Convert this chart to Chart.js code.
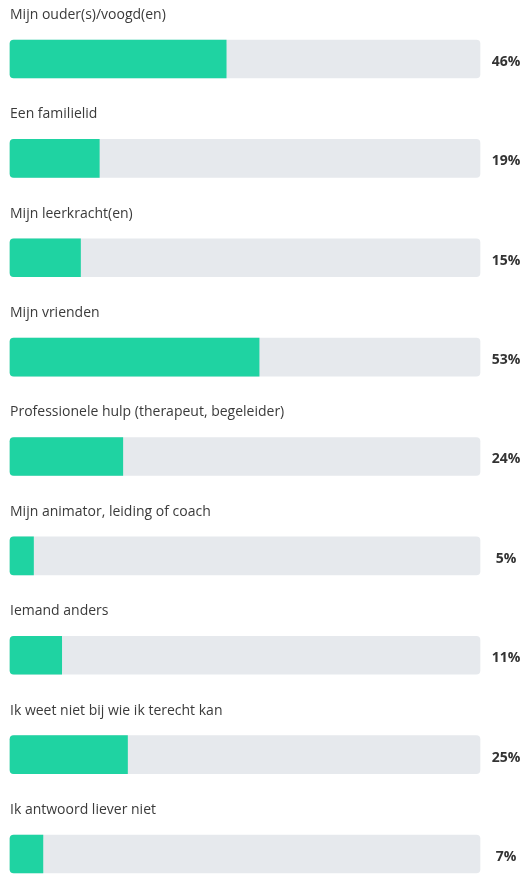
<!DOCTYPE html>
<html>
<head>
<meta charset="utf-8">
<script src="https://cdn.jsdelivr.net/npm/chart.js@4.4.1/dist/chart.umd.min.js"></script>
<style>
  html, body { margin: 0; padding: 0; background: #fff; }
  #wrap { width: 524px; height: 875px; position: relative; }
</style>
</head>
<body>
<div id="wrap"><canvas id="myChart"></canvas></div>
<script>
// Chart data
var categories = [
  'Mijn ouder(s)/voogd(en)',
  'Een familielid',
  'Mijn leerkracht(en)',
  'Mijn vrienden',
  'Professionele hulp (therapeut, begeleider)',
  'Mijn animator, leiding of coach',
  'Iemand anders',
  'Ik weet niet bij wie ik terecht kan',
  'Ik antwoord liever niet'
];
var percentages = [46, 19, 15, 53, 24, 5, 11, 25, 7];
var trackValues = [100, 100, 100, 100, 100, 100, 100, 100, 100];

var FONT = '"Open Sans", "Noto Sans", sans-serif';

// draws the question above each bar and the percentage on the right
var labelPlugin = {
  id: 'rowLabels',
  afterDatasetsDraw: function(chart) {
    var ctx = chart.ctx;
    var yScale = chart.scales.y;
    ctx.save();
    for (var i = 0; i < categories.length; i++) {
      var y = yScale.getPixelForValue(i);
      ctx.fillStyle = '#3a3a3a';
      ctx.font = '14px ' + FONT;
      ctx.textAlign = 'left';
      ctx.textBaseline = 'middle';
      ctx.fillText(categories[i], 10, y - 44);

      ctx.fillStyle = '#333333';
      ctx.font = 'bold 14px ' + FONT;
      ctx.textAlign = 'center';
      ctx.fillText(percentages[i] + '%', 506, y + 3);
    }
    ctx.restore();
  }
};

var ctx = document.getElementById('myChart').getContext('2d');
window.myChart = new Chart(ctx, {
  type: 'bar',
  data: {
    labels: categories,
    datasets: [{
      data: percentages,
      backgroundColor: '#1fd3a2',
      borderRadius: { topLeft: 4, bottomLeft: 4, topRight: 0, bottomRight: 0 },
      borderSkipped: false,
      barThickness: 38,
      grouped: false,
      clip: false
    }, {
      data: trackValues,
      backgroundColor: '#e6e9ed',
      borderRadius: { topLeft: 4, bottomLeft: 4, topRight: 4, bottomRight: 4 },
      borderSkipped: false,
      barThickness: 38,
      grouped: false,
      clip: false
    }]
  },
  options: {
    indexAxis: 'y',
    responsive: true,
    maintainAspectRatio: false,
    animation: false,
    layout: {
      padding: { left: 10, right: 44, top: 59, bottom: 21 }
    },
    scales: {
      x: { display: false, min: 0, max: 100 },
      y: { display: false, offset: false }
    },
    plugins: {
      legend: { display: false },
      tooltip: { enabled: false }
    }
  },
  plugins: [labelPlugin]
});
</script>
</body>
</html>
